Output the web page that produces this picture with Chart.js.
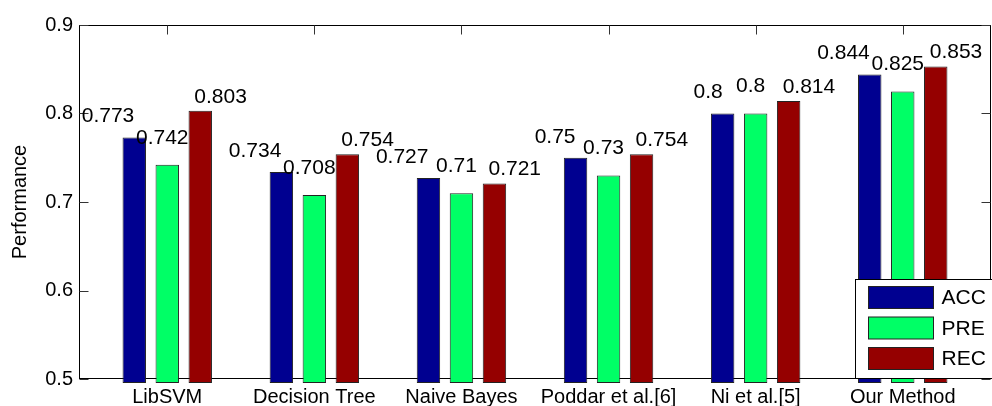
<!DOCTYPE html>
<html>
<head>
<meta charset="utf-8">
<script src="https://cdn.jsdelivr.net/npm/chart.js@4"></script>
<style>
  html, body { margin: 0; padding: 0; background: #fff; }
  canvas { display: block; }
</style>
</head>
<body>
<canvas id="chart" width="992" height="406"></canvas>
<script>
// data
const categories = ['LibSVM', 'Decision Tree', 'Naive Bayes', 'Poddar et al.[6]', 'Ni et al.[5]', 'Our Method'];
const accValues = [0.773, 0.734, 0.727, 0.75, 0.8, 0.844];
const preValues = [0.742, 0.708, 0.71, 0.73, 0.8, 0.825];
const recValues = [0.803, 0.754, 0.721, 0.754, 0.814, 0.853];
const seriesNames = ['ACC', 'PRE', 'REC'];
const yTicks = [0.5, 0.6, 0.7, 0.8, 0.9];

const FONT = "'Liberation Sans', Arial, sans-serif";
const colors = ['#000090', '#00ff66', '#950000'];

// label placement per series: alignment + offset from bar centre / bar top
const labelStyle = [
    { align: 'right', dx: 0, dy: 21 },
    { align: 'center', dx: -5, dy: 27 },
    { align: 'left', dx: -6, dy: 14 }
];

const toPoints = arr => arr.map((v, i) => ({ x: i + 1, y: v }));

// frame + inward ticks like matlab axes
const framePlugin = {
    id: 'frame',
    beforeDatasetsDraw(chart) {
        const { ctx, chartArea: a, scales } = chart;
        const L = Math.round(a.left) + 0.5, R = Math.round(a.right) - 0.5;
        const T = Math.round(a.top) + 0.5, B = Math.round(a.bottom) - 0.5;
        ctx.save();
        ctx.strokeStyle = '#000';
        ctx.lineWidth = 1;
        ctx.strokeRect(L, T, R - L, B - T);
        ctx.strokeStyle = '#333';
        ctx.beginPath();
        yTicks.forEach(v => {
            const y = Math.round(scales.y.getPixelForValue(v)) + 0.5;
            ctx.moveTo(L, y); ctx.lineTo(L + 9, y);
            ctx.moveTo(R, y); ctx.lineTo(R - 9, y);
        });
        categories.forEach((c, i) => {
            const x = Math.round(scales.x.getPixelForValue(i + 1)) + 0.5;
            ctx.moveTo(x, T); ctx.lineTo(x, T + 9);
            ctx.moveTo(x, B); ctx.lineTo(x, B - 9);
        });
        ctx.stroke();
        ctx.restore();
    }
};

// value labels over the bars
const valueLabels = {
    id: 'valueLabels',
    afterDatasetsDraw(chart) {
        const { ctx } = chart;
        ctx.save();
        ctx.font = '21px ' + FONT;
        ctx.fillStyle = '#000';
        ctx.textBaseline = 'middle';
        chart.data.datasets.forEach((ds, di) => {
            const st = labelStyle[di];
            chart.getDatasetMeta(di).data.forEach((bar, i) => {
                ctx.textAlign = st.align;
                ctx.fillText(String(ds.data[i].y), bar.x + st.dx, bar.y - st.dy);
            });
        });
        ctx.restore();
    }
};

// legend box in the lower right corner, drawn over the bars
const boxLegend = {
    id: 'boxLegend',
    afterDraw(chart) {
        const { ctx, chartArea: a } = chart;
        const left = Math.round(a.right) - 135.5, top = Math.round(a.bottom) - 99.5;
        ctx.save();
        ctx.fillStyle = '#fff';
        ctx.fillRect(left, top, 140, 99);
        ctx.strokeStyle = '#000';
        ctx.lineWidth = 1;
        ctx.strokeRect(left, top, 140, 99);
        ctx.font = '21px ' + FONT;
        ctx.textBaseline = 'middle';
        ctx.textAlign = 'left';
        chart.data.datasets.forEach((ds, i) => {
            const sy = top + 7 + i * 30.5;
            ctx.fillStyle = ds.backgroundColor;
            ctx.fillRect(left + 13, sy, 65, 22);
            ctx.strokeStyle = '#222';
            ctx.strokeRect(left + 13, sy, 65, 22);
            ctx.fillStyle = '#000';
            ctx.fillText(ds.label, left + 86, sy + 12);
        });
        ctx.restore();
    }
};

const mkSet = (i, vals) => ({
    label: seriesNames[i],
    data: toPoints(vals),
    backgroundColor: colors[i],
    borderColor: '#222',
    borderWidth: 1,
    borderSkipped: false,
    base: 0.4955,
    clip: false,
    categoryPercentage: 0.673,
    barPercentage: 0.71
});

new Chart(document.getElementById('chart'), {
    type: 'bar',
    data: {
        datasets: [mkSet(0, accValues), mkSet(1, preValues), mkSet(2, recValues)]
    },
    options: {
        responsive: false,
        animation: false,
        layout: { padding: { top: 25, right: 1, left: 0, bottom: 0 } },
        plugins: { legend: { display: false }, tooltip: { enabled: false } },
        scales: {
            x: {
                type: 'linear',
                offset: false,
                min: 0.4,
                max: 6.6,
                grid: { display: false, drawTicks: false },
                border: { display: false },
                afterFit: s => { s.height = 27; },
                afterBuildTicks: s => { s.ticks = categories.map((c, i) => ({ value: i + 1 })); },
                ticks: {
                    autoSkip: false,
                    maxRotation: 0,
                    padding: 6,
                    color: '#000',
                    font: { family: FONT, size: 20 },
                    callback: v => categories[v - 1] || ''
                }
            },
            y: {
                min: 0.5,
                max: 0.9,
                beginAtZero: false,
                grid: { display: false, drawTicks: false },
                border: { display: false },
                afterFit: s => { s.width = 79; },
                afterBuildTicks: s => { s.ticks = yTicks.map(v => ({ value: v })); },
                ticks: {
                    padding: 6,
                    color: '#000',
                    font: { family: FONT, size: 20 },
                    callback: v => v.toFixed(1)
                },
                title: {
                    display: true,
                    text: 'Performance',
                    color: '#000',
                    padding: { top: 8, bottom: 0 },
                    font: { family: FONT, size: 20 }
                }
            }
        }
    },
    plugins: [framePlugin, valueLabels, boxLegend]
});
</script>
</body>
</html>
